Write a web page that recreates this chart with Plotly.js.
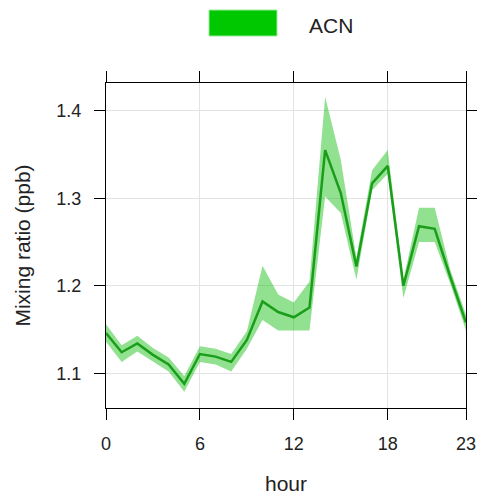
<!DOCTYPE html>
<html>
<head>
<meta charset="utf-8">
<script src="https://cdn.plot.ly/plotly-3.0.1.min.js"></script>
<style>
html,body{margin:0;padding:0;background:#fff;}
#chart{width:477px;height:495px;}
</style>
</head>
<body>
<div id="chart"></div>
<script>
var hours = [0,1,2,3,4,5,6,7,8,9,10,11,12,13,14,15,16,17,18,19,20,21,22,23];
var acnMean  = [1.146,1.124,1.134,1.121,1.110,1.088,1.122,1.119,1.113,1.138,1.182,1.170,1.164,1.175,1.355,1.306,1.222,1.317,1.337,1.200,1.268,1.265,1.210,1.158];
var acnUpper = [1.156,1.132,1.143,1.129,1.118,1.097,1.131,1.128,1.122,1.148,1.223,1.190,1.181,1.205,1.416,1.344,1.232,1.332,1.355,1.207,1.289,1.289,1.218,1.167];
var acnLower = [1.136,1.113,1.125,1.113,1.102,1.079,1.113,1.110,1.102,1.128,1.161,1.149,1.149,1.149,1.302,1.283,1.207,1.309,1.328,1.186,1.250,1.250,1.202,1.149];
var seriesName = "ACN";
var xTicks = [0,6,12,18,23];
var yTicks = [1.1,1.2,1.3,1.4];

var fontFam = "Liberation Sans, Arial, sans-serif";

var traces = [
  {x: hours, y: acnUpper, mode: "lines", line: {width: 0, color: "rgba(0,0,0,0)"}, showlegend: false, hoverinfo: "skip"},
  {x: hours, y: acnLower, mode: "lines", line: {width: 0, color: "rgba(0,0,0,0)"}, fill: "tonexty", fillcolor: "rgba(0,185,0,0.43)", showlegend: false, hoverinfo: "skip"},
  {x: hours, y: acnMean, mode: "lines", name: seriesName, line: {width: 2.5, color: "#1a9e1a"}, showlegend: false}
];

var axisCommon = {
  showline: true, linecolor: "#000", linewidth: 1, mirror: "allticks",
  ticks: "outside", ticklen: 11, tickwidth: 1, tickcolor: "#000",
  showgrid: true, gridcolor: "#e3e3e3", gridwidth: 1, zeroline: false,
  tickfont: {family: fontFam, size: 18, color: "#222"}
};

var layout = {
  width: 477, height: 495,
  margin: {l: 106, r: 11, t: 83, b: 87},
  paper_bgcolor: "#fff", plot_bgcolor: "#fff",
  showlegend: false,
  xaxis: Object.assign({}, axisCommon, {
    range: [0, 23], tickmode: "array", tickvals: xTicks, ticktext: xTicks.map(String),
    ticklabelstandoff: 8,
    title: {text: "hour", font: {family: fontFam, size: 21, color: "#222"}, standoff: 24}
  }),
  yaxis: Object.assign({}, axisCommon, {
    range: [1.0603, 1.4317], tickmode: "array", tickvals: yTicks, ticktext: yTicks.map(function(v){return v.toFixed(1);}),
    ticklabelstandoff: 9,
    title: {text: "Mixing ratio (ppb)", font: {family: fontFam, size: 21, color: "#222"}, standoff: 20}
  }),
  shapes: [
    {type: "rect", xref: "paper", yref: "paper",
     x0: (209-106)/360, x1: (277-106)/360, y0: (408-36)/325, y1: (408-10)/325,
     fillcolor: "#00c800", line: {color: "#9be89b", width: 1}}
  ],
  annotations: [
    {text: seriesName, xref: "paper", yref: "paper", x: (307-106)/360, y: (408-25)/325,
     xanchor: "left", yanchor: "middle", showarrow: false,
     font: {family: fontFam, size: 21, color: "#222"}}
  ]
};

Plotly.newPlot("chart", traces, layout, {displayModeBar: false, staticPlot: true});
</script>
</body>
</html>
